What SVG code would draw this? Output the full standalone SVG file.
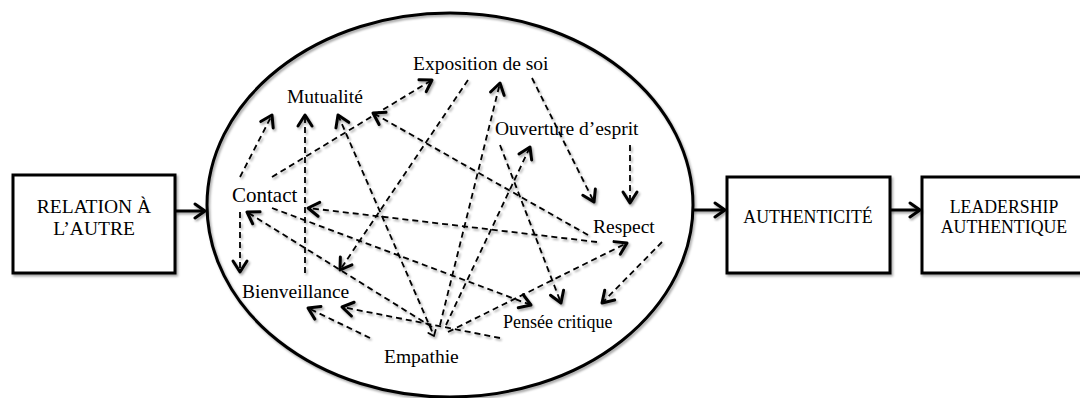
<svg xmlns="http://www.w3.org/2000/svg" width="1080" height="398" viewBox="0 0 1080 398">
<style>
text{font-family:"Liberation Serif","Times New Roman",serif;fill:#000;}
.lbl{font-size:19.5px;}
.box{fill:#fff;stroke:#000;stroke-width:3;}
.solid{stroke:#000;stroke-width:3;fill:none;}
.dash{stroke:#000;stroke-width:1.8;fill:none;stroke-dasharray:6 4;}
</style>
<defs>
<filter id="sh" x="-10%" y="-10%" width="130%" height="130%">
<feDropShadow dx="1.5" dy="2" stdDeviation="1.2" flood-color="#000" flood-opacity="0.35"/>
</filter>
<marker id="ah" viewBox="-14 -10 17 20" markerWidth="17" markerHeight="20" refX="0" refY="0" orient="auto-start-reverse" markerUnits="userSpaceOnUse">
<path d="M-11,-7 L0,0 L-11,7" fill="none" stroke="#000" stroke-width="3" stroke-linecap="round" stroke-linejoin="round"/>
</marker>
<marker id="ahs" viewBox="-8 -6 10 12" markerWidth="10" markerHeight="12" refX="0" refY="0" orient="auto" markerUnits="userSpaceOnUse">
<path d="M-5,-4 L0,0 L-5,4" fill="none" stroke="#000" stroke-width="1.8" stroke-linecap="round" stroke-linejoin="round"/>
</marker>
<marker id="bh" viewBox="-13 -9 16 18" markerWidth="16" markerHeight="18" refX="0" refY="0" orient="auto" markerUnits="userSpaceOnUse">
<path d="M-10,-7 L0,0 L-10,7" fill="none" stroke="#000" stroke-width="3" stroke-linecap="round" stroke-linejoin="round"/>
</marker>
</defs>

<g id="ellipse" filter="url(#sh)">
<ellipse cx="450" cy="205" rx="243" ry="192" fill="none" stroke="#000" stroke-width="3"/>
</g>

<g id="relation">
<rect class="box" x="13" y="175" width="162" height="98" filter="url(#sh)"/>
<text x="94" y="213" text-anchor="middle" class="lbl">RELATION À</text>
<text x="94" y="235" text-anchor="middle" class="lbl">L’AUTRE</text>
</g>
<g id="authenticite">
<rect class="box" x="727" y="177" width="163" height="96" filter="url(#sh)"/>
<text x="808" y="223" text-anchor="middle" style="font-size:17.8px">AUTHENTICITÉ</text>
</g>
<g id="leadership">
<rect class="box" x="922" y="177" width="170" height="96" filter="url(#sh)"/>
<text x="1004" y="213" text-anchor="middle" style="font-size:17.8px">LEADERSHIP</text>
<text x="1004" y="233" text-anchor="middle" style="font-size:17.8px">AUTHENTIQUE</text>
</g>

<g id="n-exposition"><text x="413" y="70" class="lbl">Exposition de soi</text></g>
<g id="n-mutualite"><text x="287" y="103" class="lbl">Mutualité</text></g>
<g id="n-ouverture"><text x="495" y="135" class="lbl">Ouverture d’esprit</text></g>
<g id="n-contact"><text x="232" y="202" style="font-size:21px">Contact</text></g>
<g id="n-respect"><text x="593" y="233" class="lbl">Respect</text></g>
<g id="n-bienveillance"><text x="242" y="298" class="lbl">Bienveillance</text></g>
<g id="n-pensee"><text x="503" y="328" style="font-size:18px">Pensée critique</text></g>
<g id="n-empathie"><text x="384" y="363" class="lbl">Empathie</text></g>

<g id="connectors" filter="url(#sh)">
<path class="solid" d="M175,211 L205,211" marker-end="url(#bh)"/>
<path class="solid" d="M693,210 L725,210" marker-end="url(#bh)"/>
<path class="solid" d="M890,210 L920,210" marker-end="url(#bh)"/>

<path class="dash" d="M240,177 L272,115" marker-end="url(#ah)"/>
<path class="dash" d="M305,273 L305,115" marker-end="url(#ah)"/>
<path class="dash" d="M338,115 L434,336" marker-start="url(#ah)" marker-end="url(#ahs)"/>
<path class="dash" d="M272,177 L432,80" marker-end="url(#ah)"/>
<path class="dash" d="M588,235 L373,113" marker-end="url(#ah)"/>
<path class="dash" d="M468,80 L340,270" marker-end="url(#ah)"/>
<path class="dash" d="M440,325 L500,83" marker-end="url(#ah)"/>
<path class="dash" d="M532,78 L594,202" marker-end="url(#ah)"/>
<path class="dash" d="M630,145 L630,203" marker-end="url(#ah)"/>
<path class="dash" d="M500,145 L561,303" marker-end="url(#ah)"/>
<path class="dash" d="M446,325 L530,147" marker-end="url(#ah)"/>
<path class="dash" d="M662,242 L602,303" marker-end="url(#ah)"/>
<path class="dash" d="M448,332 L627,243" marker-end="url(#ah)"/>
<path class="dash" d="M272,208 L531,305" marker-end="url(#ah)"/>
<path class="dash" d="M597,242 L308,208" marker-end="url(#ah)"/>
<path class="dash" d="M432,327 L247,212" marker-end="url(#ah)"/>
<path class="dash" d="M240,212 L240,272" marker-end="url(#ah)"/>
<path class="dash" d="M500,338 L342,307" marker-end="url(#ah)"/>
<path class="dash" d="M370,338 L308,308" marker-end="url(#ah)"/>
</g>
</svg>
